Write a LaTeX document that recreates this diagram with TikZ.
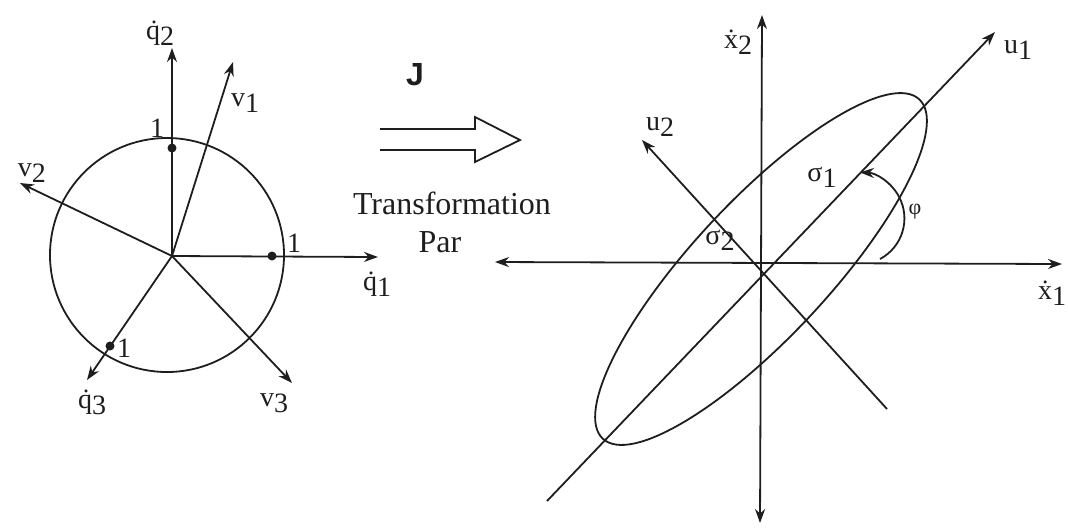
\documentclass[tikz,border=0pt]{standalone}
\usepackage{fontspec}
\setmainfont{Liberation Serif}
\newfontfamily\jfont{Liberation Sans}
\usetikzlibrary{arrows.meta}
\definecolor{cInk}{HTML}{1E1E1E}
\newcommand\lsub[2]{#1\raisebox{-0.45ex}{#2}}
\tikzset{
  axis/.style={line width=0.9pt, draw=cInk},
  vec/.style={axis, -{Stealth[length=7pt,width=5pt]}},
  bivec/.style={axis, {Stealth[length=7pt,width=5pt]}-{Stealth[length=7pt,width=5pt]}},
  lbl/.style={font=\fontsize{14}{16}\selectfont, text=cInk, inner sep=1pt},
  unitpt/.style={circle, fill=cInk, inner sep=0pt, minimum size=4.5pt},
}

\begin{document}
\begin{tikzpicture}[x=0.5pt, y=-0.5pt]
\useasboundingbox (0,0) rectangle (1068,527);
% left: unit circle
\coordinate (O1) at (172,256);
\coordinate (C1) at (167,255);
\draw[axis] (C1) circle[radius=117];
\coordinate (q1) at (378,257);
\coordinate (q2) at (172,48);
\coordinate (q3) at (87,380);
\coordinate (v1) at (233,62);
\coordinate (v2) at (20,183);
\coordinate (v3) at (292,383);
\foreach \e in {q1,q2,q3,v1,v2,v3} \draw[vec] (O1) -- (\e);
\node[unitpt] (p1) at (272,256) {};
\node[unitpt] (p2) at (172,148) {};
\node[unitpt] (p3) at (110,346) {};
\node[lbl] (lp1) at (294,243) {1};
\node[lbl] (lp2) at (157,128) {1};
\node[lbl] (lp3) at (124,348) {1};
\node[lbl] (lq1) at (377,284) {\lsub{\.{q}}{1}};
\node[lbl] (lq2) at (160,33) {\lsub{\.{q}}{2}};
\node[lbl] (lq3) at (92,402) {\lsub{\.{q}}{3}};
\node[lbl] (lv1) at (245,103) {\lsub{v}{1}};
\node[lbl] (lv2) at (32,173) {\lsub{v}{2}};
\node[lbl] (lv3) at (274,403) {\lsub{v}{3}};
% middle
\node[font=\jfont\bfseries\fontsize{16}{18}\selectfont, text=cInk] (J) at (415,75) {J};
\draw[axis, line join=miter] (380,129) -- (475,129) -- (475,117) -- (520,140)
  -- (475,162) -- (475,150) -- (380,150);
\node[lbl, font=\fontsize{16}{19}\selectfont] (tr) at (452,203) {Transformation};
\node[lbl, font=\fontsize{16}{19}\selectfont] (par) at (440,242) {Par};
% right: ellipse
\coordinate (O2) at (762,263);
\coordinate (E2) at (761,269);
\coordinate (x1a) at (495,262);
\coordinate (x1b) at (1062,264);
\coordinate (x2a) at (762,15);
\coordinate (x2b) at (760,523);
\draw[bivec] (x1a) -- (x1b);
\draw[bivec] (x2b) -- (x2a);
\coordinate (u1) at (995,32);
\coordinate (u1e) at (547,501);
\coordinate (u2) at (642,140);
\coordinate (u2e) at (887,409);
\draw[vec] (u1e) -- (u1);
\draw[vec] (u2e) -- (u2);
\draw[axis, rotate around={47:(E2)}] (E2) ellipse[x radius=232, y radius=68];
\coordinate (phs) at (880,259);
\draw[vec] (phs) arc[start angle=62, end angle=-88, radius=46];
\node[lbl] (lu1) at (1018,50) {\lsub{u}{1}};
\node[lbl] (lu2) at (660,127) {\lsub{u}{2}};
\node[lbl] (lx2) at (738,42) {\lsub{\.{x}}{2}};
\node[lbl] (lx1) at (1052,293) {\lsub{\.{x}}{1}};
\node[lbl] (ls1) at (822,177) {\lsub{σ}{1}};
\node[lbl] (ls2) at (720,240) {\lsub{σ}{2}};
\node[lbl, font=\fontsize{11}{13}\selectfont] (lph) at (915,212) {φ};
\end{tikzpicture}
\end{document}
